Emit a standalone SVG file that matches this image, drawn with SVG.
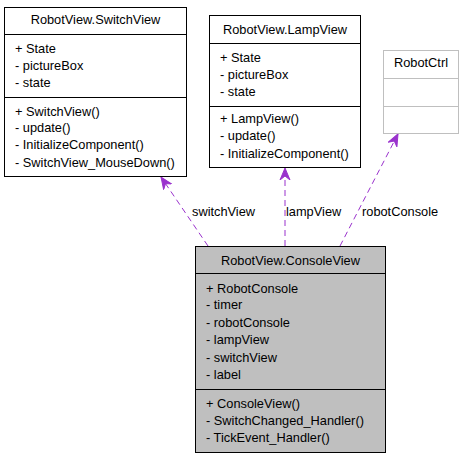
<svg xmlns="http://www.w3.org/2000/svg" width="464" height="459" viewBox="0 0 464 459">
<style>
text{font-family:"Liberation Sans",Arial,sans-serif;font-size:12.8px;fill:#000}
.h{text-anchor:middle}
.box{fill:#fff;stroke:#000;stroke-width:1}
.cur{fill:#bfbfbf;stroke:#000;stroke-width:1}
.ext{fill:#fff;stroke:#bfbfbf;stroke-width:1}
.div{stroke:#000;stroke-width:1}
.divg{stroke:#bfbfbf;stroke-width:1}
.edge{fill:none;stroke:#9a32cd;stroke-width:1;stroke-dasharray:6,4;marker-end:url(#vee)}
</style>
<defs>
<marker id="vee" markerUnits="userSpaceOnUse" viewBox="-12 -6 13 12" refX="0" refY="0" markerWidth="13" markerHeight="12" orient="auto">
<path d="M0,0 L-12,-5 L-8,0 L-12,5 Z" fill="#9a32cd" stroke="#9a32cd" stroke-width="1"/>
</marker>
</defs>
<rect width="464" height="459" fill="#fff"/>
<g id="connectors">
<path class="edge" d="M208,246 L161,177"/>
<text x="192" y="215.5">switchView</text>
<path class="edge" d="M285,246 L285,168"/>
<text x="286" y="215.5">lampView</text>
<path class="edge" d="M340,246 L398,134"/>
<text x="362" y="215.5">robotConsole</text>
</g>
<g id="SwitchView">
<rect class="box" x="4.5" y="7.5" width="182" height="169"/>
<line class="div" x1="4.5" y1="34.5" x2="186.5" y2="34.5"/>
<line class="div" x1="4.5" y1="97.5" x2="186.5" y2="97.5"/>
<text class="h" x="95.5" y="23.5">RobotView.SwitchView</text>
<text x="15" y="52.5">+ State</text>
<text x="15" y="69.5">- pictureBox</text>
<text x="15" y="86.5">- state</text>
<text x="15" y="115.5">+ SwitchView()</text>
<text x="15" y="132">- update()</text>
<text x="15" y="149">- InitializeComponent()</text>
<text x="15" y="166.5">- SwitchView_MouseDown()</text>
</g>
<g id="LampView">
<rect class="box" x="209.5" y="15.5" width="151" height="152"/>
<line class="div" x1="209.5" y1="43.5" x2="360.5" y2="43.5"/>
<line class="div" x1="209.5" y1="106.5" x2="360.5" y2="106.5"/>
<text class="h" x="285" y="33.5">RobotView.LampView</text>
<text x="220" y="61.5">+ State</text>
<text x="220" y="78.5">- pictureBox</text>
<text x="220" y="95.5">- state</text>
<text x="220" y="122.5">+ LampView()</text>
<text x="220" y="140">- update()</text>
<text x="220" y="157.5">- InitializeComponent()</text>
</g>
<g id="RobotCtrl">
<rect class="ext" x="383.5" y="50.5" width="75" height="83"/>
<line class="divg" x1="383.5" y1="78.5" x2="458.5" y2="78.5"/>
<line class="divg" x1="383.5" y1="106.5" x2="458.5" y2="106.5"/>
<text class="h" x="421" y="67">RobotCtrl</text>
</g>
<g id="ConsoleView">
<rect class="cur" x="195.5" y="246.5" width="190" height="206"/>
<line class="div" x1="195.5" y1="273.5" x2="385.5" y2="273.5"/>
<line class="div" x1="195.5" y1="389.5" x2="385.5" y2="389.5"/>
<text class="h" x="290.5" y="264.5">RobotView.ConsoleView</text>
<text x="206" y="292.5">+ RobotConsole</text>
<text x="206" y="309">- timer</text>
<text x="206" y="326.5">- robotConsole</text>
<text x="206" y="343.5">- lampView</text>
<text x="206" y="361.5">- switchView</text>
<text x="206" y="379">- label</text>
<text x="206" y="407.5">+ ConsoleView()</text>
<text x="206" y="424.5">- SwitchChanged_Handler()</text>
<text x="206" y="441.5">- TickEvent_Handler()</text>
</g>
</svg>
